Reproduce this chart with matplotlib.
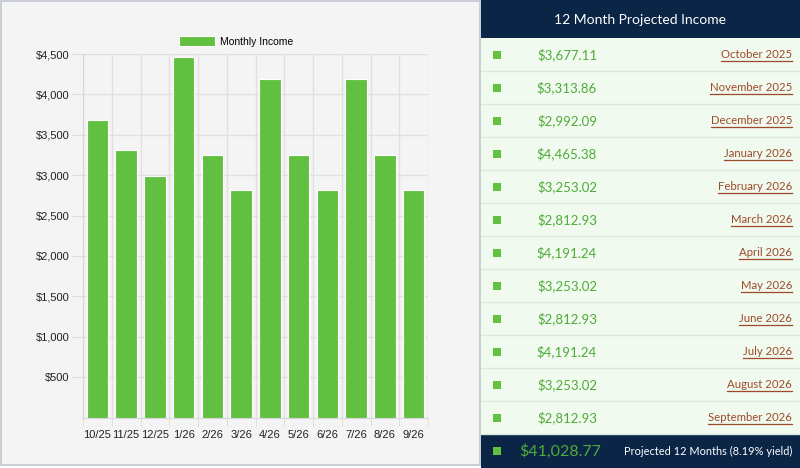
import matplotlib
matplotlib.use("Agg")
import matplotlib.pyplot as plt
from matplotlib.patches import Rectangle
import numpy as np

short_labels = ["10/25", "11/25", "12/25", "1/26", "2/26", "3/26",
                "4/26", "5/26", "6/26", "7/26", "8/26", "9/26"]
month_names = ["October 2025", "November 2025", "December 2025", "January 2026",
               "February 2026", "March 2026", "April 2026", "May 2026",
               "June 2026", "July 2026", "August 2026", "September 2026"]
income = [3677.11, 3313.86, 2992.09, 4465.38, 3253.02, 2812.93,
          4191.24, 3253.02, 2812.93, 4191.24, 3253.02, 2812.93]
total = 41028.77
yield_pct = 8.19

green = "#62c040"
text_green = "#4fab3a"
brown = "#9c4a2b"
navy = "#0b2546"

W, H = 800, 468
fig = plt.figure(figsize=(W / 100, H / 100), dpi=100)
fig.patch.set_facecolor("white")

# left panel background
fig.patches.append(Rectangle((0.5 / W, 3 / H), 479 / W, 464 / H, transform=fig.transFigure,
                             facecolor="#f4f4f4", edgecolor="#bfc5d0", lw=1.2, zorder=-5))

# ---- bar chart ----
ax = fig.add_axes([83 / W, (H - 417.5) / H, 345 / W, (417.5 - 54) / H])
ax.set_facecolor("#f4f4f4")
x = np.arange(len(income))
ax.bar(x, income, width=0.74, color=green, edgecolor="white", linewidth=0.8,
       label="Monthly Income", zorder=3)
ax.set_xlim(-0.5, len(income) - 0.5)
ax.set_ylim(0, 4500)
ax.set_yticks(np.arange(500, 4501, 500))
ax.set_yticklabels(["${:,.0f}".format(v) for v in np.arange(500, 4501, 500)])
ax.set_xticks(x)
ax.set_xticklabels(short_labels)
ax.set_xticks(np.arange(-0.5, len(income)), minor=True)
ax.tick_params(axis="x", which="major", length=0, pad=9, labelsize=8)
ax.tick_params(axis="x", which="minor", length=6, color="#dcdcdc")
ax.tick_params(axis="y", length=8, color="#dcdcdc", pad=2, labelsize=8)
ax.grid(axis="y", color="#e0e0e0", lw=1, zorder=0)
ax.grid(axis="x", which="minor", color="#e0e0e0", lw=1, zorder=0)
for s in ["top", "right"]:
    ax.spines[s].set_visible(False)
ax.spines["left"].set_color("#d6d6d6")
ax.spines["bottom"].set_color("#d6d6d6")
for lab in ax.get_xticklabels() + ax.get_yticklabels():
    lab.set_family("Liberation Sans")
    lab.set_color("#222222")

leg = fig.legend(loc="center", bbox_to_anchor=(236 / W, 1 - 41.5 / H), frameon=False,
                 handlelength=3.5, handleheight=1.1, handletextpad=0.5,
                 prop={"family": "Liberation Sans", "size": 7.5})

# ---- table panel ----
tx = fig.add_axes([481 / W, 0, 319 / W, 1])
tx.set_xlim(481, 800)
tx.set_ylim(H, 0)
tx.axis("off")

head_h, row_h = 38, 33
tx.add_patch(Rectangle((481, 0), 319, head_h, facecolor=navy, edgecolor="none"))
tx.text(640, head_h / 2 + 1, "12 Month Projected Income", color="white", ha="center",
        va="center", family="Lato", fontsize=10)

rows_top = head_h
month_texts = []
for i, (val, name) in enumerate(zip(income, month_names)):
    y0 = rows_top + i * row_h
    tx.add_patch(Rectangle((481, y0), 319, row_h, facecolor="#f1faee",
                           edgecolor="none"))
    tx.plot([481, 800], [y0 + row_h, y0 + row_h], color="#dbe9dc", lw=1)
    yc = y0 + row_h / 2
    tx.add_patch(Rectangle((493, yc - 4), 8, 8, facecolor=green, edgecolor="none"))
    tx.text(567, yc, "${:,.2f}".format(val), color=text_green, ha="center", va="center",
            family="Lato", fontsize=9.5)
    t = tx.text(792, yc, name, color=brown, ha="right", va="center",
                family="Lato", fontsize=8.2)
    month_texts.append((t, yc))

fy = rows_top + len(income) * row_h
tx.add_patch(Rectangle((481, fy), 319, H - fy, facecolor=navy, edgecolor="none"))
fc = fy + (H - fy) / 2
tx.add_patch(Rectangle((493, fc - 4), 8, 8, facecolor=green, edgecolor="none"))
tx.text(560, fc, "${:,.2f}".format(total), color=text_green, ha="center", va="center",
        family="Lato", fontsize=11.5)
tx.text(792, fc, "Projected 12 Months ({:.2f}% yield)".format(yield_pct), color="white",
        ha="right", va="center", family="Lato", fontsize=7.9)

# underline the month links
fig.canvas.draw()
r = fig.canvas.get_renderer()
inv = tx.transData.inverted()
for t, yc in month_texts:
    bb = t.get_window_extent(renderer=r)
    (xa, _), (xb, _) = inv.transform([[bb.x0, bb.y0], [bb.x1, bb.y0]])
    tx.plot([xa, xb], [yc + 6.5, yc + 6.5], color=brown, lw=0.9)

fig.savefig("out.png", dpi=100)
